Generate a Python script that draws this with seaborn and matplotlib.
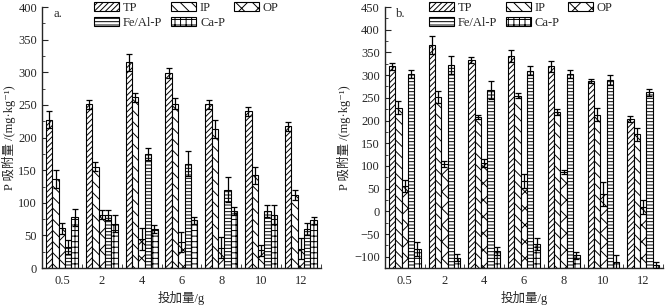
import numpy as np
import pandas as pd
import matplotlib
matplotlib.use("Agg")
import matplotlib.pyplot as plt
from matplotlib.ticker import MultipleLocator, FixedLocator
import seaborn as sns

DOSES = ["0.5", "2", "4", "6", "8", "10", "12"]
FORMS = ["TP", "IP", "OP", "Fe/Al-P", "Ca-P"]

# panel a.
a_tp = [227, 251, 315, 299, 251, 240, 217]
a_ip = [136, 155, 262, 252, 213, 142, 112]
a_op = [61, 82, 45, 40, 31, 27, 30]
a_fe = [32, 81, 175, 160, 120, 87, 60]
a_ca = [78, 68, 60, 73, 88, 82, 73]
a_tp_err = [13, 7, 13, 7, 7, 7, 7]
a_ip_err = [14, 7, 7, 8, 14, 13, 7]
a_op_err = [8, 7, 17, 16, 16, 9, 16]
a_fe_err = [11, 8, 9, 19, 19, 9, 9]
a_ca_err = [13, 13, 6, 6, 6, 14, 6]

# panel b.
b_tp = [319, 367, 334, 343, 319, 287, 203]
b_ip = [228, 252, 208, 255, 219, 213, 170]
b_op = [56, 104, 107, 67, 86, 38, 9]
b_fe = [303, 323, 268, 310, 303, 289, 262]
b_ca = [-83, -102, -88, -72, -97, -112, -118]
b_tp_err = [7, 20, 7, 13, 13, 5, 6]
b_ip_err = [14, 14, 5, 5, 7, 15, 14]
b_op_err = [14, 7, 9, 15, 4, 26, 15]
b_fe_err = [9, 20, 20, 9, 9, 11, 8]
b_ca_err = [15, 7, 9, 13, 7, 15, 7]

HATCHES = ["//////", "\\\\\\", "xx", "-----", "+++"]

sns.set_style("ticks")
plt.rcParams["font.family"] = ["Liberation Serif", "Noto Sans CJK SC", "DejaVu Sans"]
plt.rcParams["hatch.linewidth"] = 0.7
plt.rcParams["font.size"] = 9


def make_frame(series):
    rows = []
    for form, vals in zip(FORMS, series):
        for dose, v in zip(DOSES, vals):
            rows.append({"dose": dose, "form": form, "value": v})
    return pd.DataFrame(rows)


def draw_panel(ax, series, errs, ymin, ymax, tag, leg_x):
    df = make_frame(series)
    sns.barplot(data=df, x="dose", y="value", hue="form", order=DOSES,
                hue_order=FORMS, errorbar=None, width=0.8,
                palette=["white"] * 5, edgecolor="black", linewidth=0.8,
                legend=False, ax=ax)
    for cont, hatch, vals, err in zip(ax.containers, HATCHES, series, errs):
        xs = []
        for bar, v in zip(cont.patches, vals):
            bar.set_hatch(hatch)
            bar.set_facecolor("white")
            bar.set_edgecolor("black")
            # bars rise from the bottom of the axis, as in the original figure
            bar.set_y(ymin)
            bar.set_height(v - ymin)
            xs.append(bar.get_x() + bar.get_width() / 2)
        ax.errorbar(xs, vals, yerr=err, fmt="none", ecolor="black",
                    elinewidth=0.9, capsize=2, capthick=0.9, zorder=5)

    ax.set_xlim(-0.5, 6.5)
    ax.set_ylim(ymin, ymax)
    ax.yaxis.set_major_locator(MultipleLocator(50))
    ax.yaxis.set_minor_locator(MultipleLocator(25))
    ax.xaxis.set_minor_locator(FixedLocator(np.arange(-0.5, 7, 1)))
    ax.tick_params(axis="y", which="major", direction="in", length=4, labelsize=9)
    ax.tick_params(axis="y", which="minor", direction="in", length=2)
    ax.tick_params(axis="x", which="major", length=0, labelsize=9, pad=5)
    ax.tick_params(axis="x", which="minor", direction="in", length=3)
    sns.despine(ax=ax)
    for s in ["left", "bottom"]:
        ax.spines[s].set_linewidth(1.0)

    ax.set_xlabel("投加量/g", fontsize=9, labelpad=3)
    ax.set_ylabel("P 吸附量 /(mg·kg⁻¹)", fontsize=9, labelpad=2)
    ax.text(0.04, 0.995, tag, transform=ax.transAxes, ha="left", va="top", fontsize=9)

    handles = ax.containers
    order = [0, 3, 1, 4, 2]
    ax.legend([handles[i].patches[0] for i in order], [FORMS[i] for i in order],
              ncol=3, loc="upper left", bbox_to_anchor=(leg_x, 1.04),
              frameon=False, fontsize=9, handlelength=2.0, handleheight=0.7,
              handletextpad=0.3, columnspacing=0.7, labelspacing=0.25,
              borderaxespad=0)


fig = plt.figure(figsize=(6.67, 3.05), dpi=100)
ax_a = fig.add_axes([0.063, 0.121, 0.418, 0.856])
ax_b = fig.add_axes([0.577, 0.121, 0.417, 0.856])

draw_panel(ax_a, [a_tp, a_ip, a_op, a_fe, a_ca],
           [a_tp_err, a_ip_err, a_op_err, a_fe_err, a_ca_err], 0, 400, "a.", 0.17)
draw_panel(ax_b, [b_tp, b_ip, b_op, b_fe, b_ca],
           [b_tp_err, b_ip_err, b_op_err, b_fe_err, b_ca_err], -125, 450, "b.", 0.14)

fig.savefig("out.png", dpi=100)
